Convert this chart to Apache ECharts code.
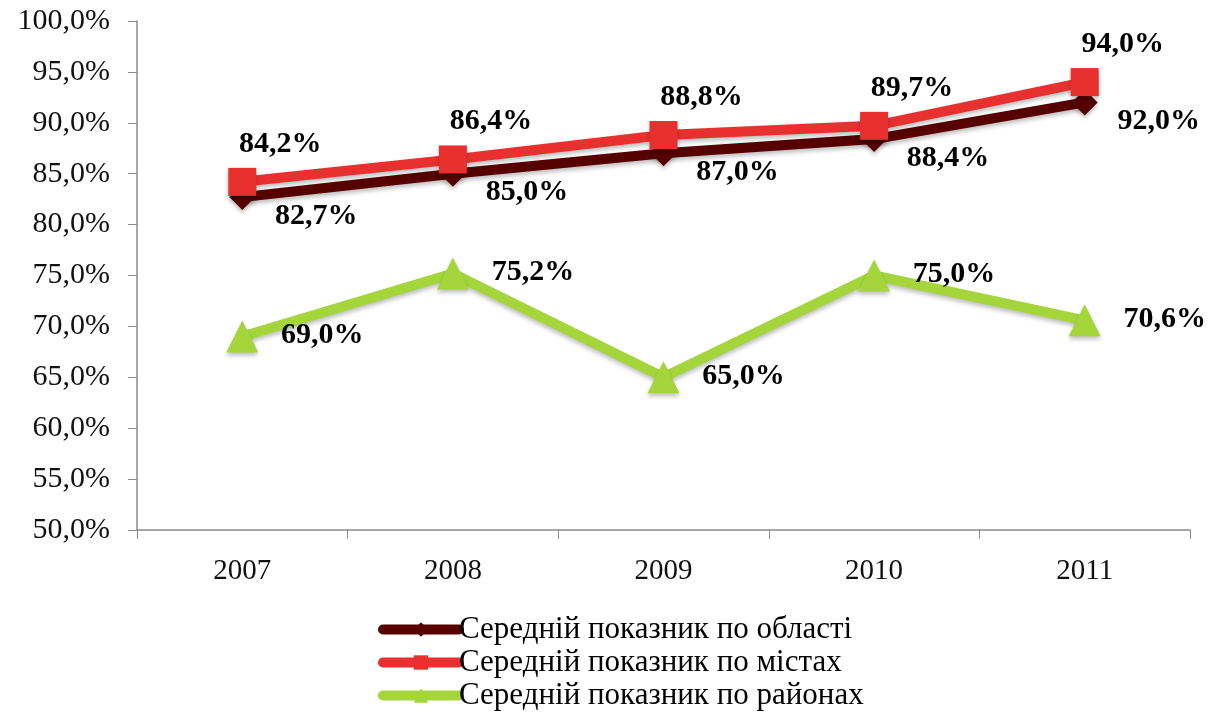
<!DOCTYPE html>
<html>
<head>
<meta charset="utf-8">
<title>Середній показник</title>
<script src="https://cdn.jsdelivr.net/npm/echarts@6/dist/echarts.min.js"></script>
<style>
  html, body { margin: 0; padding: 0; background: #fff; }
  #chart { width: 1215px; height: 714px; }
</style>
</head>
<body>
<div id="chart"></div>
<script>
// роки
const years = ['2007', '2008', '2009', '2010', '2011'];
// середній показник по області, %
const oblastValues = [82.7, 85.0, 87.0, 88.4, 92.0];
// середній показник по містах, %
const cityValues = [84.2, 86.4, 88.8, 89.7, 94.0];
// середній показник по районах, %
const districtValues = [69.0, 75.2, 65.0, 75.0, 70.6];
// підписи осі Y
const yTicks = [50, 55, 60, 65, 70, 75, 80, 85, 90, 95, 100];

const seriesNames = [
  'Середній показник по області',
  'Середній показник по містах',
  'Середній показник по районах'
];

const serif = '"Liberation Serif", "Times New Roman", serif';
const pct = v => v.toFixed(1).replace('.', ',') + '%';

const chart = echarts.init(document.getElementById('chart'));

function lineSeries(name, data, color, symbol, size, offset) {
  return {
    name: name,
    type: 'line',
    data: data,
    symbol: symbol,
    symbolSize: size,
    lineStyle: {
      color: color,
      width: 10,
      shadowColor: 'rgba(0,0,0,0.25)',
      shadowBlur: 4,
      shadowOffsetY: 3
    },
    itemStyle: {
      color: color,
      shadowColor: 'rgba(0,0,0,0.25)',
      shadowBlur: 4,
      shadowOffsetY: 3
    },
    label: {
      show: true,
      position: 'inside',
      offset: offset,
      formatter: p => pct(p.value),
      fontFamily: serif,
      fontWeight: 'bold',
      fontSize: 30,
      color: '#000'
    },
    animation: false
  };
}

chart.setOption({
  backgroundColor: '#fff',
  grid: { left: 137, right: 25, top: 21, bottom: 184 },
  legend: {
    orient: 'vertical',
    left: 378,
    top: 614,
    height: 100,
    padding: 0,
    itemWidth: 76,
    itemHeight: 18,
    itemGap: 2,
    lineStyle: { width: 10, cap: 'round', shadowBlur: 0, shadowOffsetY: 0 },
    itemStyle: { shadowBlur: 0, shadowOffsetY: 0 },
    textStyle: { fontFamily: serif, fontSize: 31, lineHeight: 30, color: '#000', padding: [0, 0, 0, -5] },
    data: seriesNames
  },
  xAxis: {
    type: 'category',
    data: years,
    boundaryGap: true,
    axisLine: { lineStyle: { color: '#8c8c8c', width: 1.5 } },
    axisTick: { show: true, length: 9, lineStyle: { color: '#8c8c8c' } },
    axisLabel: { fontFamily: serif, fontSize: 29, color: '#111', margin: 27 }
  },
  yAxis: {
    type: 'value',
    min: yTicks[0],
    max: yTicks[yTicks.length - 1],
    interval: 5,
    splitLine: { show: false },
    axisLine: { show: true, lineStyle: { color: '#8c8c8c', width: 1.5 } },
    axisTick: { show: true, length: 9, lineStyle: { color: '#8c8c8c' } },
    axisLabel: {
      fontFamily: serif, fontSize: 30, color: '#111', margin: 27,
      formatter: v => pct(v)
    }
  },
  series: [
    lineSeries(seriesNames[0], oblastValues, '#560000', 'diamond', 26, [74, 19]),
    lineSeries(seriesNames[1], cityValues, '#e8302f', 'rect', 28, [38, -38]),
    lineSeries(seriesNames[2], districtValues, '#a4d63c', 'triangle', 32, [80, -1])
  ]
});
</script>
</body>
</html>
